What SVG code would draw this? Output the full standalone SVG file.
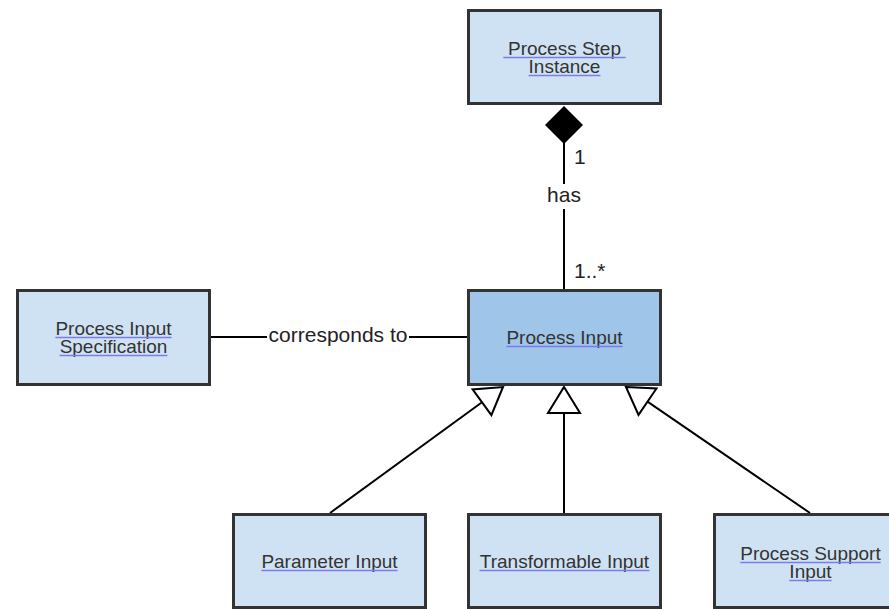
<svg xmlns="http://www.w3.org/2000/svg" width="889" height="609" viewBox="0 0 889 609">
<style>
.box{fill:#cfe2f3;stroke:#333;stroke-width:3}
.main{fill:#9fc5e8}
.t{font-family:"Liberation Sans",Arial,sans-serif;font-size:19px;fill:#333;text-anchor:middle}
.ul{stroke:#7b7bef;stroke-width:1.5}
.c{stroke:#000;stroke-width:2;fill:none}
.lbl{font-family:"Liberation Sans",Arial,sans-serif;font-size:21px;fill:#222}
.bg{fill:#fff}
.gen{fill:#fff;stroke:#000;stroke-width:2;stroke-linejoin:miter}
</style>
<rect width="889" height="609" fill="#fff"/>
<g id="connectors">
  <line class="c" x1="564" y1="140" x2="564" y2="289"/>
  <polygon points="564,106 583,125 564,144 545,125" fill="#000"/>
  <rect class="bg" x="546" y="184" width="36" height="25"/>
  <text class="lbl" x="564" y="202" text-anchor="middle">has</text>
  <text class="lbl" x="574" y="164">1</text>
  <text class="lbl" x="574" y="278">1..*</text>
  <line class="c" x1="210" y1="337" x2="467" y2="337"/>
  <rect class="bg" x="267" y="326" width="142" height="22"/>
  <text class="lbl" x="338" y="342" text-anchor="middle">corresponds to</text>
  <line class="c" x1="330" y1="513" x2="482" y2="402.3"/>
  <polygon class="gen" points="503,387 491.4,415.2 472.6,389.4"/>
  <line class="c" x1="564" y1="513" x2="564" y2="413"/>
  <polygon class="gen" points="564,387 580,413 548,413"/>
  <line class="c" x1="810" y1="513" x2="647.5" y2="401.7"/>
  <polygon class="gen" points="626,387 656.5,388.5 638.5,414.9"/>
</g>
<g id="process-step-instance">
  <rect class="box" x="468.5" y="10.5" width="192" height="93"/>
  <text class="t" x="564.5" y="55">Process Step</text>
  <line class="ul" x1="503.3" y1="57.5" x2="625.7" y2="57.5"/>
  <text class="t" x="564.5" y="73">Instance</text>
  <line class="ul" x1="528.6" y1="75.5" x2="600.4" y2="75.5"/>
</g>
<g id="process-input-specification">
  <rect class="box" x="17.5" y="290.5" width="192" height="94"/>
  <text class="t" x="113.5" y="335">Process Input</text>
  <line class="ul" x1="55.4" y1="337.5" x2="171.6" y2="337.5"/>
  <text class="t" x="113.5" y="353">Specification</text>
  <line class="ul" x1="59.6" y1="355.5" x2="167.4" y2="355.5"/>
</g>
<g id="process-input">
  <rect class="box main" x="468.5" y="290.5" width="192" height="94"/>
  <text class="t" x="564.5" y="344">Process Input</text>
  <line class="ul" x1="506.4" y1="346.5" x2="622.6" y2="346.5"/>
</g>
<g id="parameter-input">
  <rect class="box" x="233.5" y="514.5" width="192" height="93"/>
  <text class="t" x="329.5" y="568">Parameter Input</text>
  <line class="ul" x1="261.4" y1="570.5" x2="397.6" y2="570.5"/>
</g>
<g id="transformable-input">
  <rect class="box" x="468.5" y="514.5" width="192" height="93"/>
  <text class="t" x="564.5" y="568">Transformable Input</text>
  <line class="ul" x1="479.5" y1="570.5" x2="649.5" y2="570.5"/>
</g>
<g id="process-support-input">
  <rect class="box" x="714.5" y="514.5" width="192" height="93"/>
  <text class="t" x="810.5" y="560">Process Support</text>
  <line class="ul" x1="740.3" y1="562.5" x2="880.7" y2="562.5"/>
  <text class="t" x="810.5" y="578">Input</text>
  <line class="ul" x1="789.4" y1="580.5" x2="831.6" y2="580.5"/>
</g>
</svg>
